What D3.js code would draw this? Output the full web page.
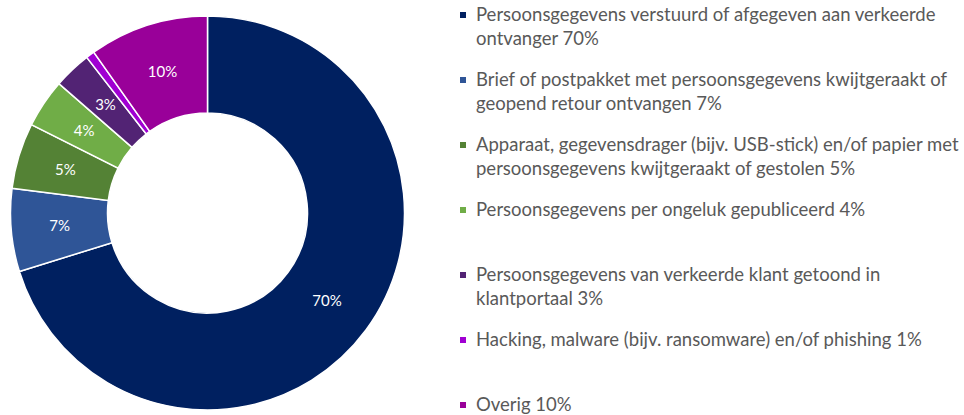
<!DOCTYPE html>
<html>
<head>
<meta charset="utf-8">
<script src="https://cdn.jsdelivr.net/npm/d3@7"></script>
<style>
  body { margin: 0; background: #fff; }
  svg { display: block; font-family: Lato, "Open Sans", sans-serif; }
</style>
</head>
<body>
<div id="visual"></div>
<script>
// categories (line breaks as in the legend)
const categories = [
  "Persoonsgegevens verstuurd of afgegeven aan verkeerde\nontvanger",
  "Brief of postpakket met persoonsgegevens kwijtgeraakt of\ngeopend retour ontvangen",
  "Apparaat, gegevensdrager (bijv. USB-stick) en/of papier met\npersoonsgegevens kwijtgeraakt of gestolen",
  "Persoonsgegevens per ongeluk gepubliceerd",
  "Persoonsgegevens van verkeerde klant getoond in\nklantportaal",
  "Hacking, malware (bijv. ransomware) en/of phishing",
  "Overig"
];
const values = [70.2, 6.8, 5.4, 4.0, 3.1, 0.7, 9.8];
const pctLabels = ["70%", "7%", "5%", "4%", "3%", "1%", "10%"];
const colors = ["#002060", "#2F5597", "#548235", "#70AD47", "#522374", "#A000D2", "#990099"];

const width = 964, height = 415;
const cx = 207.5, cy = 213;
const outerR = 197, innerR = 100;

const svg = d3.select("#visual")
  .append("svg")
    .attr("width", width)
    .attr("height", height);

const data = categories.map((c, i) => ({cat: c, value: values[i], label: pctLabels[i], color: colors[i]}));

const pie = d3.pie()
  .value(d => d.value)
  .sort(null);

const arc = d3.arc()
  .innerRadius(innerR)
  .outerRadius(outerR);

const g = svg.append("g")
  .attr("transform", "translate(" + cx + "," + cy + ")");

const arcs = pie(data);

// slices
g.selectAll("path")
  .data(arcs)
  .enter()
  .append("path")
  .attr("d", arc)
  .attr("fill", d => d.data.color)
  .attr("stroke", "#fff")
  .attr("stroke-width", 1.5);

// data labels (skip the tiny 1% slice)
g.selectAll("text.lbl")
  .data(arcs.filter(d => d.data.value >= 2))
  .enter()
  .append("text")
  .attr("class", "lbl")
  .attr("transform", d => "translate(" + arc.centroid(d) + ")")
  .attr("text-anchor", "middle")
  .attr("dy", "0.35em")
  .attr("fill", "#fff")
  .style("font-size", "15px")
  .text(d => d.data.label);

// legend
const legend = svg.append("g")
  .attr("transform", "translate(460,0)");

const item = legend.selectAll("g")
  .data(data)
  .enter()
  .append("g")
  .attr("transform", (d, i) => "translate(0," + (15 + i * 65) + ")");

item.append("rect")
  .attr("x", 0)
  .attr("y", -3)
  .attr("width", 6)
  .attr("height", 6)
  .attr("fill", d => d.color);

item.append("text")
  .attr("x", 16)
  .attr("fill", "#595959")
  .style("font-size", "18.5px")
  .each(function(d) {
    const lines = (d.cat + " " + d.label).split("\n");
    const t = d3.select(this);
    lines.forEach((l, j) => {
      t.append("tspan")
        .attr("x", 16)
        .attr("y", j * 24)
        .attr("dy", "0.35em")
        .text(l);
    });
  });
</script>
</body>
</html>
